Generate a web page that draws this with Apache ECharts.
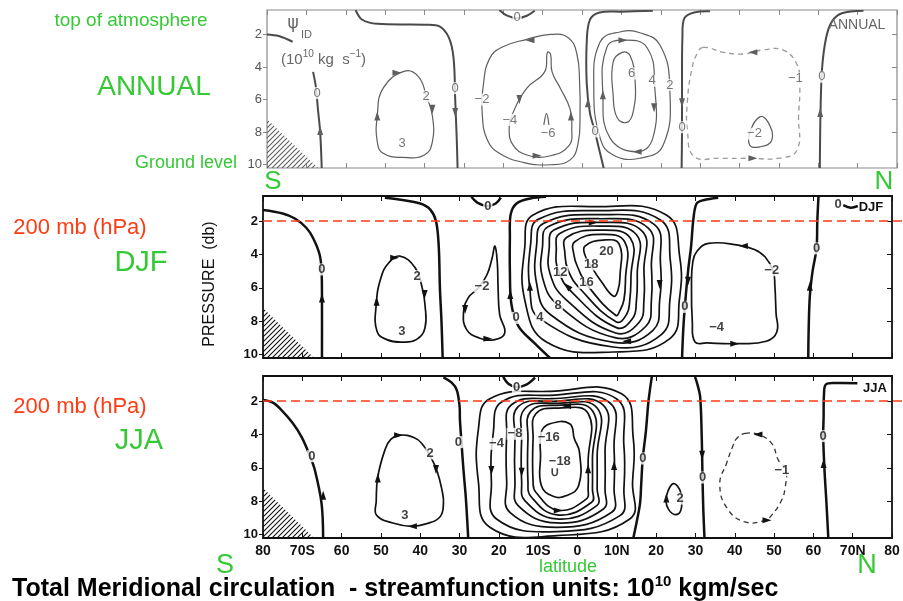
<!DOCTYPE html>
<html>
<head>
<meta charset="utf-8">
<script src="https://cdn.jsdelivr.net/npm/echarts@6/dist/echarts.min.js"></script>
<style>
  html, body { margin: 0; padding: 0; background: #fff; }
  #chart { width: 903px; height: 601px; }
</style>
</head>
<body>
<div id="chart"></div>
<script>
// ---- axes -------------------------------------------------------------
const latTicks = [-80, -70, -60, -50, -40, -30, -20, -10, 0, 10, 20, 30, 40, 50, 60, 70, 80];
const latTickLabels = ['80', '70S', '60', '50', '40', '30', '20', '10S', '0', '10N', '20', '30', '40', '50', '60', '70N', '80'];
const pressureTicks = [2, 4, 6, 8, 10];          // decibars
const refPressure = 2;                            // 200 mb level
const antarctica = [[-80, 7.2], [-80, 10.2], [-67, 10.2]];

// ---- ANNUAL mean streamfunction (10^10 kg/s) --------------------------
// open contours: [level, [[lat, p], ...]]
const annualLines = [
  [0, [[-80, 2.0], [-77, 2.1], [-73.5, 2.45]]],
  [0, [[-68.3, 4.3], [-67.6, 5.2], [-67.1, 6.5], [-66.5, 8], [-66.1, 10.2]]],
  [0, [[-57.5, 0.5], [-55.8, 1.1], [-52, 1.35], [-40, 1.4], [-36.2, 1.5], [-33.8, 2.2], [-32.6, 3.5], [-32.2, 6], [-31.8, 8.5], [-31.6, 10.2]]],
  [0, [[-21, 0.5], [-19, 0.85], [-16.5, 1.0], [-14, 0.85], [-12, 0.55]]],
  [0, [[18, 0.55], [10, 0.6], [4.5, 0.65], [2, 1.1], [1.2, 2.5], [1.2, 5], [2, 6.8], [3.2, 7.9], [4.5, 9.2], [5.5, 10.2]]],
  [0, [[32.5, 0.58], [28.5, 0.65], [26, 1.0], [25.5, 2.2], [25.4, 5], [25.4, 8], [25.3, 10.2]]],
  [0, [[71.5, 0.55], [66, 0.7], [63.5, 1.2], [62, 2.2], [61, 4], [60.6, 6.5], [60.4, 10.2]]],
  [-6, [[-9.7, 7.55], [-9.0, 6.85], [-8.4, 7.55]]]
];
// closed contours
const annualLoops = [
  [2, [[-45, 4.25], [-41.5, 4.6], [-39.5, 5.8], [-38, 7.0], [-38, 8.6], [-40, 9.4], [-45.5, 9.55], [-50.5, 9.3], [-52, 8.6], [-52, 7.0], [-50.5, 5.3]]],
  [-2, [[-8, 2.0], [-3.5, 2.2], [-1.3, 3.2], [-0.6, 5], [-0.5, 7], [-1, 8.7], [-3, 9.7], [-8, 10.0], [-15, 9.85], [-21, 9.3], [-24, 8.5], [-25.3, 7], [-25, 5], [-23.5, 3.5], [-20.5, 2.8], [-14, 2.3]]],
  [-4, [[-8.8, 3.1], [-8.0, 3.2], [-7.6, 4.3], [-5.5, 5.3], [-3, 6.6], [-2.6, 7.8], [-3.2, 8.8], [-8, 9.45], [-14, 9.4], [-17.5, 8.8], [-18.5, 7.8], [-17.5, 6.8], [-14, 5.3], [-9.5, 4.3]]],
  [2, [[9.6, 1.85], [14.7, 1.9], [19.8, 2.65], [22.3, 5.3], [20.6, 8.8], [14.7, 9.6], [7.9, 9.4], [4.6, 8.35], [3.0, 5.3], [4.6, 2.46]]],
  [4, [[10.4, 2.35], [16.5, 2.8], [18.5, 5.3], [18, 8.35], [13.9, 9.2], [7.1, 8.35], [5.3, 5.7], [6.3, 2.8]]],
  [6, [[10.2, 3.1], [12.2, 3.3], [13.5, 4.9], [13, 6.75], [11.4, 7.4], [8.9, 7.1], [7.9, 5.7], [7.9, 3.7]]],
  [-1, [[30.7, 2.8], [36, 3.1], [40.9, 3.2], [46, 2.95], [51, 2.95], [54.5, 3.8], [55.3, 5.0], [55, 7], [54.6, 9.1], [50, 9.6], [42.6, 9.6], [35, 9.6], [28.5, 9.5], [26.8, 8], [26.8, 6.0], [28, 4], [29.2, 3.2]]],
  [-2, [[45.2, 7.06], [47.3, 7.4], [48.2, 8.5], [45.2, 8.9], [42.6, 8.8], [42.8, 7.9]]]
];
const annualLabels = [
  [-67.3, 5.6, '0'], [-39.6, 5.8, '2'], [-45.7, 8.7, '3'], [-32.2, 5.3, '0'], [-25.4, 6.0, '−2'],
  [-18.3, 7.25, '−4'], [-8.6, 8.1, '−6'], [-16.5, 0.95, '0'], [3.3, 7.95, '0'], [12.6, 4.4, '6'],
  [17.8, 4.85, '4'], [22.3, 5.1, '2'], [25.4, 7.7, '0'], [54.2, 4.7, '−1'], [43.8, 8.1, '−2'], [60.9, 4.6, '0']
];
const annualArrows = [
  [-66.5, 7.9, 'up'], [-52, 7.0, 'up'], [-47, 4.35, 'right'], [-38, 6.6, 'down'], [-32.2, 6.8, 'down'],
  [-13.2, 2.35, 'left'], [-15.9, 6.0, 'down'], [-2.8, 7.0, 'up'], [-11.4, 9.45, 'right'], [1.5, 6.2, 'up'],
  [5.3, 5.7, 'up'], [10.4, 2.35, 'right'], [18.3, 6.5, 'down'], [14, 9.2, 'left'], [25.4, 6.2, 'down'],
  [43.4, 3.1, 'left'], [43.4, 9.6, 'right'], [60.5, 6.8, 'up']
];

// ---- DJF ---------------------------------------------------------------
const djfLines = [
  [0, [[-80, 1.34], [-75, 1.55], [-71.9, 1.85], [-69, 2.4], [-67.3, 3.0], [-65.6, 4.0], [-65.1, 5], [-65, 7], [-65, 10.2]]],
  [0, [[-49, 0.6], [-45, 0.72], [-40, 0.95], [-37.5, 1.3], [-36, 2.0], [-35.3, 3.5], [-35, 6], [-34.6, 8], [-34.3, 10.2]]],
  [0, [[-27, 0.55], [-25.5, 0.9], [-23, 1.1], [-20.8, 0.95], [-19.5, 0.6]]],
  [0, [[-8, 0.55], [-12, 0.65], [-15.5, 0.95], [-17, 1.6], [-17.2, 3], [-17.2, 5], [-16.8, 7], [-15, 8.3], [-11, 9.3], [-7, 10.2]]],
  [0, [[35.8, 0.6], [32, 0.75], [30.3, 0.95], [29.5, 1.84], [28.9, 3.5], [28.2, 4.84], [27.3, 7.14], [26.9, 8.5], [26.6, 10.2]]],
  [0, [[61.3, 0.55], [61, 2], [60.8, 3.64], [59.8, 5.0], [59.1, 6.5], [58.8, 8.5], [58.7, 10.2]]],
  [0, [[67.6, 1.05], [69.5, 1.2], [71.3, 1.1]]]
];
const djfLoops = [
  [2, [[-45.2, 4.1], [-41.3, 4.8], [-39.5, 6.0], [-38.8, 7.0], [-38.8, 8.4], [-41, 9.1], [-44.7, 9.25], [-48.5, 9.1], [-51, 8.6], [-51.2, 7.0], [-50, 5.4], [-48, 4.5]]],
  [-2, [[-21, 3.5], [-20.4, 4.5], [-20.2, 6], [-19.8, 7.6], [-18.5, 8.7], [-21, 9.1], [-25, 9.0], [-28.2, 8.5], [-29, 7.5], [-27.8, 6.6], [-25.2, 6.0], [-23, 5.2], [-21.7, 4.2]]],
  [2, [[-11.3, 1.64], [4.8, 1.14], [22.6, 1.64], [26.0, 4.14], [25.9, 6.74], [23.5, 9.04], [9.1, 9.84], [-7.9, 9.24], [-13.4, 6.74], [-13.4, 3.54]]],
  [4, [[-10.0, 1.9], [4.8, 1.38], [21.1, 1.94], [23.6, 4.34], [23.5, 6.74], [21.4, 8.78], [9.1, 9.54], [-9.6, 7.84], [-12.1, 6.14], [-11.9, 3.34]]],
  [6, [[-8.7, 2.14], [5.0, 1.62], [19.5, 2.2], [21.1, 4.54], [20.9, 6.74], [19.2, 8.54], [9.2, 9.26], [-7.0, 7.58], [-10.4, 5.74], [-10.4, 3.44]]],
  [8, [[-7.5, 2.34], [5.2, 1.86], [18, 2.42], [18.8, 4.74], [18.8, 6.74], [17.4, 8.3], [9.5, 8.98], [-4.9, 7.04], [-8.9, 5.38], [-8.9, 3.54]]],
  [10, [[-6.0, 2.54], [5.3, 2.08], [16.5, 2.62], [16.9, 4.94], [16.9, 6.74], [15.7, 8.06], [9.7, 8.7], [-3.2, 6.64], [-7.0, 5.14], [-7.2, 3.64]]],
  [12, [[-4.5, 2.74], [5.5, 2.3], [15.0, 2.82], [15.2, 5.14], [15.0, 6.74], [14.0, 7.84], [9.9, 8.38], [-1.5, 6.24], [-4.9, 4.94], [-5.4, 3.74]]],
  [14, [[-2.8, 2.98], [5.7, 2.54], [13.5, 3.04], [13.6, 5.34], [13.3, 6.74], [12.5, 7.58], [9.9, 8.04], [0.6, 6.04], [-2.4, 4.94], [-3.2, 3.94]]],
  [16, [[-0.7, 3.24], [5.9, 2.8], [12.0, 3.24], [12.2, 5.54], [11.8, 6.74], [10.9, 7.3], [9.7, 7.64], [2.3, 5.78], [0.2, 4.84], [-0.9, 4.04]]],
  [18, [[1.9, 3.5], [6.5, 3.14], [10.6, 3.38], [10.8, 5.34], [10.3, 6.14], [9.2, 6.5], [6.1, 5.64], [3.3, 4.64], [1.9, 4.04]]],
  [-2, [[30.3, 3.84], [33.3, 3.34], [40.9, 3.44], [45, 3.7], [47.7, 4.14], [49.8, 5.0], [50.2, 5.84], [50.5, 7.5], [50.7, 8.64], [48, 9.2], [40.9, 9.34], [33, 9.3], [29.9, 9.24], [29.2, 8], [29, 5.84], [29.3, 4.5]]]
];
const djfLabels = [
  [-65, 4.9, '0'], [-40.8, 5.3, '2'], [-44.7, 8.6, '3'], [-22.8, 1.1, '0'], [-24.3, 5.9, '−2'],
  [-15.6, 7.8, '0'], [-9.6, 7.8, '4'], [-4.9, 7.04, '8'], [-4.4, 5.05, '12'], [2.3, 5.7, '16'],
  [3.5, 4.6, '18'], [7.4, 3.84, '20'], [27.3, 7.14, '0'], [49.4, 4.94, '−2'], [35.4, 8.34, '−4'],
  [60.8, 3.64, '0'], [66.3, 1.0, '0']
];
const djfArrows = [
  [-65, 6.6, 'up'], [-51.1, 6.8, 'up'], [-46.5, 4.2, 'right'], [-38.9, 6.4, 'down'], [-28.6, 7.3, 'down'],
  [-22.8, 9.05, 'right'], [-17.1, 6.4, 'up'], [-12.1, 5.9, 'up'], [-2.6, 5.9, 'upleft'], [4.0, 2.08, 'right'],
  [20.9, 5.8, 'down'], [12.5, 9.2, 'left'], [28.1, 5.6, 'down'], [42.2, 3.5, 'left'], [40, 9.34, 'right'],
  [59.1, 5.9, 'up']
];

// ---- JJA ---------------------------------------------------------------
const jjaLines = [
  [0, [[-80, 1.94], [-77.5, 2.1], [-75.3, 2.54], [-72.5, 3.3], [-70.2, 4.14], [-68.2, 5.2], [-66.8, 6.14], [-65.1, 8.14], [-64.7, 10.2]]],
  [0, [[-34.1, 0.58], [-32, 0.9], [-30.7, 1.34], [-30, 2.3], [-29.9, 3.14], [-29.5, 4.5], [-29, 6.14], [-28.5, 7.5], [-28.2, 8.54], [-27.8, 10.2]]],
  [0, [[-18.9, 0.55], [-17.6, 0.96], [-15.5, 1.16], [-13, 1.02], [-10.8, 0.6]]],
  [0, [[18.9, 0.55], [18.5, 1.2], [18, 2.14], [17.4, 3.8], [16.6, 5.44], [16.2, 7], [15.9, 8.14], [15, 9.3], [14.2, 10.2]]],
  [0, [[29.9, 0.55], [30.5, 1.0], [31.2, 1.74], [31.6, 4.14], [31.8, 6.58], [32, 8.5], [32.3, 10.2]]],
  [0, [[71.2, 0.94], [66, 0.92], [63.2, 1.0], [62.7, 1.6], [62.6, 3], [62.5, 4.1], [62.8, 6], [63.3, 8], [63.8, 10.2]]]
];
const jjaLoops = [
  [2, [[-45.2, 4.04], [-41.5, 4.2], [-39.6, 4.54], [-37.5, 5.3], [-35.8, 6.14], [-34.5, 7.3], [-34.1, 8.14], [-35, 8.94], [-38.5, 9.35], [-42.2, 9.5], [-47, 9.3], [-51.1, 8.84], [-51.2, 8], [-50.8, 6.54], [-49, 4.94], [-47.5, 4.3]]],
  [-2, [[-22.3, 1.86], [-7, 1.42], [11.2, 1.56], [14.2, 4.26], [14, 6.86], [13.3, 9.06], [-5.3, 10.06], [-22.3, 9.56], [-25.2, 6.86], [-25.2, 3.66]]],
  [-4, [[-19.3, 2.06], [-7, 1.66], [9.9, 1.86], [11.8, 4.66], [11.8, 7.26], [10.8, 8.86], [-5.3, 9.82], [-20.6, 9.06], [-21.9, 6.86], [-21.4, 3.86]]],
  [-6, [[-16.8, 2.22], [-6.6, 1.86], [8.2, 2.1], [9.3, 4.86], [9.3, 7.26], [8.7, 8.66], [-5.3, 9.56], [-17.2, 8.66], [-18, 6.86], [-18, 4.06]]],
  [-8, [[-15.1, 2.34], [-6.2, 2.02], [6.6, 2.26], [7, 5.06], [7, 7.26], [6.6, 8.46], [-5.3, 9.3], [-15.1, 8.26], [-15.9, 6.86], [-15.9, 4.26]]],
  [-10, [[-13.4, 2.46], [-5.7, 2.14], [5, 2.42], [5, 5.26], [5, 7.26], [4.9, 8.26], [-5.3, 9.06], [-13.4, 7.96], [-14.2, 6.86], [-14.2, 4.26]]],
  [-12, [[-11.9, 2.62], [-5.3, 2.26], [3.8, 2.58], [3.8, 5.46], [3.8, 7.26], [3.6, 8.06], [-5.2, 8.82], [-11.9, 7.7], [-12.6, 6.86], [-12.6, 4.26]]],
  [-14, [[-10.6, 2.76], [-4.9, 2.42], [2.7, 2.74], [2.7, 5.66], [2.7, 7.26], [2.3, 7.86], [-4.9, 8.54], [-10.6, 7.46], [-11.3, 6.86], [-11.3, 4.26]]],
  [-16, [[-7, 3.36], [-2, 3.36], [-0.8, 4.26], [0.5, 5.06], [0.3, 7.06], [-2.8, 7.66], [-6.2, 7.7], [-9.2, 7.06], [-9.4, 5.26], [-9.2, 3.86]]],
  [2, [[24.4, 6.94], [26, 7.3], [26.5, 7.9], [26.2, 8.6], [24.8, 8.8], [23.2, 8.5], [22.5, 8.0], [23, 7.4]]],
  [-1, [[42.6, 3.94], [46, 4.0], [49.4, 4.54], [51.1, 5.54], [53, 6.14], [52.8, 7.2], [51.9, 7.94], [49.5, 8.8], [47.7, 9.14], [42.6, 9.24], [38, 8.4], [36.2, 6.94], [37.9, 5.74], [39.5, 4.7], [40.5, 4.24]]]
];
const jjaLabels = [
  [-67.6, 5.3, '0'], [-37.5, 5.14, '2'], [-43.9, 8.84, '3'], [-30.3, 4.46, '0'], [-15.5, 1.16, '0'],
  [-20.6, 4.56, '−4'], [-15.9, 3.96, '−8'], [-7.3, 4.2, '−16'], [-4.5, 5.62, '−18'], [-5.7, 6.25, '∪'],
  [16.6, 5.44, '0'], [26.1, 7.84, '2'], [31.8, 6.58, '0'], [52, 6.14, '−1'], [62.5, 4.1, '0']
];
const jjaArrows = [
  [-64.7, 7.64, 'up'], [-50.8, 6.6, 'up'], [-45.5, 4.05, 'right'], [-36, 6.1, 'down'], [-42, 9.5, 'left'],
  [-21.9, 6.16, 'down'], [-14.2, 6.26, 'down'], [2.7, 6.06, 'up'], [9.3, 5.86, 'up'], [-2.8, 2.3, 'left'],
  [-4.9, 8.56, 'right'], [22.6, 7.8, 'up'], [31.7, 5.25, 'down'], [45.9, 4.0, 'left'], [48.2, 9.14, 'right'],
  [62.6, 5.74, 'up']
];

// ---- drawing -----------------------------------------------------------
const SANS = '"Liberation Sans", Arial, Helvetica, sans-serif';
const GREEN = '#35c935';
const RED = '#ff3b14';
const arrowRotation = { up: 0, down: 180, left: 90, right: -90, upleft: 45 };

function hatchPattern(color) {
  const c = document.createElement('canvas');
  c.width = 5; c.height = 5;
  const g = c.getContext('2d');
  g.strokeStyle = color; g.lineWidth = 1.1;
  g.beginPath();
  g.moveTo(0, 5); g.lineTo(5, 0);
  g.moveTo(-1, 1); g.lineTo(1, -1);
  g.moveTo(4, 6); g.lineTo(6, 4);
  g.stroke();
  return c;
}

const panels = [
  { top: 10, height: 158, left: 267, right: 6, ink: '#5e5e5e', zeroInk: '#4a4a4a', dashInk: '#9a9a9a',
    width: 1.2, zeroWidth: 2.0, frame: '#8a8a8a', frameWidth: 1.2, text: '#555', bold: 'normal', fontSize: 13,
    xLabels: false, ref: false, lines: annualLines, loops: annualLoops, labels: annualLabels, arrows: annualArrows },
  { top: 196, height: 162, left: 263, right: 11, ink: '#111', zeroInk: '#111', dashInk: '#333',
    width: 1.7, zeroWidth: 2.5, frame: '#111', frameWidth: 1.8, text: '#111', bold: 'bold', fontSize: 13,
    xLabels: false, ref: true, lines: djfLines, loops: djfLoops, labels: djfLabels, arrows: djfArrows },
  { top: 376, height: 162, left: 263, right: 11, ink: '#111', zeroInk: '#111', dashInk: '#333',
    width: 1.7, zeroWidth: 2.5, frame: '#111', frameWidth: 1.8, text: '#111', bold: 'bold', fontSize: 13,
    xLabels: true, ref: true, lines: jjaLines, loops: jjaLoops, labels: jjaLabels, arrows: jjaArrows }
];

const grid = [], xAxis = [], yAxis = [], series = [];

function contourSeries(list, closed, pn, xi, yi) {
  return {
    type: 'custom', xAxisIndex: xi, yAxisIndex: yi, clip: true, silent: true, z: 3,
    dimensions: ['lat', 'p', 'k'], encode: { x: 0, y: 1 },
    data: list.map((c, k) => [c[1][0][0], c[1][0][1], k]),
    renderItem: (params, api) => {
      const c = list[api.value(2)];
      const pts = c[1].map(q => api.coord(q));
      const level = c[0];
      const dashed = level === -1;
      return {
        type: closed ? 'polygon' : 'polyline',
        shape: { points: pts, smooth: closed ? 0.45 : 0.35 },
        style: {
          fill: 'none',
          stroke: dashed ? pn.dashInk : (level === 0 ? pn.zeroInk : pn.ink),
          lineWidth: level === 0 ? pn.zeroWidth : (dashed ? 1.3 : pn.width),
          lineDash: dashed ? [5, 4] : null
        }
      };
    }
  };
}

panels.forEach((pn, i) => {
  grid.push({ left: pn.left, right: pn.right, top: pn.top, height: pn.height, show: true,
    borderColor: pn.frame, borderWidth: pn.frameWidth, backgroundColor: 'transparent',
    containLabel: false, outerBoundsMode: 'none' });

  const tickStyle = { color: pn.frame, width: 1 };
  const noLine = { show: false, onZero: false };
  const xb = xAxis.length;
  xAxis.push({ gridIndex: i, type: 'value', position: 'bottom', min: -80, max: 80, interval: 10,
    axisLine: noLine, splitLine: { show: false },
    axisTick: { show: true, inside: true, length: 5, lineStyle: tickStyle },
    axisLabel: { show: pn.xLabels, margin: 6, color: '#111', fontSize: 14, fontWeight: 'bold', fontFamily: SANS,
      formatter: v => { const k = latTicks.indexOf(Math.round(v)); return k >= 0 ? latTickLabels[k] : ''; } } });
  xAxis.push({ gridIndex: i, type: 'value', position: 'top', min: -80, max: 80, interval: 10,
    axisLine: noLine, splitLine: { show: false },
    axisTick: { show: true, inside: true, length: 5, lineStyle: tickStyle }, axisLabel: { show: false } });

  const yl = yAxis.length;
  yAxis.push({ gridIndex: i, type: 'value', position: 'left', inverse: true, min: 0.5, max: 10.2,
    axisLine: noLine, splitLine: { show: false },
    axisTick: { show: true, customValues: pressureTicks, length: 4, lineStyle: tickStyle },
    axisLabel: { show: true, customValues: pressureTicks, margin: 5, color: pn.text, fontSize: 13,
      fontWeight: pn.bold, fontFamily: SANS } });
  yAxis.push({ gridIndex: i, type: 'value', position: 'right', inverse: true, min: 0.5, max: 10.2,
    axisLine: noLine, splitLine: { show: false },
    axisTick: { show: true, inside: true, customValues: pressureTicks.slice(0, 4), length: 5, lineStyle: tickStyle },
    axisLabel: { show: false } });

  // hatched ground under the Antarctic plateau
  const hatch = hatchPattern(pn.ink);
  series.push({
    type: 'custom', xAxisIndex: xb, yAxisIndex: yl, clip: true, silent: true, z: 1,
    dimensions: ['lat', 'p'], encode: { x: 0, y: 1 },
    data: [antarctica[0]],
    renderItem: (params, api) => ({
      type: 'polygon',
      shape: { points: antarctica.map(q => api.coord(q)) },
      style: { fill: { image: hatch, repeat: 'repeat' }, stroke: 'none' }
    })
  });

  series.push(contourSeries(pn.lines, false, pn, xb, yl));
  series.push(contourSeries(pn.loops, true, pn, xb, yl));

  series.push({
    type: 'scatter', xAxisIndex: xb, yAxisIndex: yl, silent: true, z: 4,
    symbol: 'triangle', symbolSize: [6, 9],
    itemStyle: { color: pn.ink, opacity: 1 },
    data: pn.arrows.map(a => ({ value: [a[0], a[1]], symbolRotate: arrowRotation[a[2]] }))
  });

  series.push({
    type: 'scatter', xAxisIndex: xb, yAxisIndex: yl, silent: true, z: 5,
    symbol: 'circle', symbolSize: 1, itemStyle: { color: 'rgba(0,0,0,0)' },
    data: pn.labels.map(l => ({ value: [l[0], l[1]], name: l[2] })),
    label: { show: true, position: 'inside', formatter: '{b}', color: pn.text, fontSize: pn.fontSize,
      fontWeight: pn.bold, fontFamily: SANS,
      backgroundColor: '#fff', padding: [0, 1], lineHeight: 12 }
  });

  if (pn.ref) {
    series.push({
      type: 'custom', xAxisIndex: xb, yAxisIndex: yl, clip: false, silent: true, z: 6,
      dimensions: ['lat', 'p'], encode: { x: 0, y: 1 },
      data: [[-80, refPressure]],
      renderItem: (params, api) => {
        const a = api.coord([api.value(0), api.value(1)]);
        return { type: 'line', shape: { x1: a[0], y1: a[1], x2: api.getWidth(), y2: a[1] },
          style: { stroke: RED, lineWidth: 1.6, lineDash: [9, 5] } };
      }
    });
  }
});

function txt(x, y, text, font, fill, align, extra) {
  return Object.assign({ type: 'text', x: x, y: y, silent: true, z: 20,
    style: { text: text, font: font, fill: fill, align: align || 'center', verticalAlign: 'middle',
      textAlign: align || 'center', textVerticalAlign: 'middle' } }, extra || {});
}

const graphic = [
  txt(131, 21, 'top of atmosphere', '19px ' + SANS, GREEN),
  txt(154, 87, 'ANNUAL', '28px ' + SANS, GREEN),
  txt(186, 163, 'Ground level', '18px ' + SANS, GREEN),
  txt(273, 182, 'S', '26px ' + SANS, GREEN),
  txt(884, 182, 'N', '26px ' + SANS, GREEN),
  txt(80, 228, '200 mb (hPa)', '22px ' + SANS, RED),
  txt(141, 263, 'DJF', '29px ' + SANS, GREEN),
  txt(80, 407, '200 mb (hPa)', '22px ' + SANS, RED),
  txt(139, 441, 'JJA', '29px ' + SANS, GREEN),
  txt(225, 566, 'S', '27px ' + SANS, GREEN),
  txt(867, 566, 'N', '27px ' + SANS, GREEN),
  txt(568, 567, 'latitude', '18px ' + SANS, GREEN),
  txt(210, 284, 'PRESSURE  (db)', '16px ' + SANS, '#111', 'center', { rotation: Math.PI / 2 }),
  txt(857, 25, 'ANNUAL', '14px ' + SANS, '#666'),
  txt(871, 207, 'DJF', 'bold 13px ' + SANS, '#111'),
  txt(875, 388, 'JJA', 'bold 13px ' + SANS, '#111'),
  txt(293, 24, 'ψ', '17px "DejaVu Sans", sans-serif', '#666'),
  txt(301, 35, 'ID', '11px ' + SANS, '#666', 'left'),
  {
    type: 'text', x: 281, y: 58, silent: true, z: 20,
    style: {
      text: '{m|(10}{s|10}{m| kg  s}{s|−1}{m|)}', align: 'left', verticalAlign: 'middle',
      textAlign: 'left', textVerticalAlign: 'middle',
      rich: {
        m: { font: '15px ' + SANS, fill: '#666', color: '#666', lineHeight: 18, verticalAlign: 'bottom' },
        s: { font: '10px ' + SANS, fill: '#666', color: '#666', lineHeight: 18, verticalAlign: 'top' }
      }
    }
  },
  {
    type: 'text', x: 12, y: 588, silent: true, z: 20,
    style: {
      text: '{m|Total Meridional circulation  - streamfunction units: 10}{s|10}{m| kgm/sec}',
      align: 'left', verticalAlign: 'middle', textAlign: 'left', textVerticalAlign: 'middle',
      rich: {
        m: { font: 'bold 25px ' + SANS, fill: '#000', color: '#000', lineHeight: 28, verticalAlign: 'bottom' },
        s: { font: 'bold 15px ' + SANS, fill: '#000', color: '#000', lineHeight: 28, verticalAlign: 'top' }
      }
    }
  }
];

const chart = echarts.init(document.getElementById('chart'), null, { renderer: 'canvas' });
chart.setOption({
  animation: false,
  backgroundColor: '#fff',
  grid: grid,
  xAxis: xAxis,
  yAxis: yAxis,
  series: series,
  graphic: graphic
});
</script>
</body>
</html>
